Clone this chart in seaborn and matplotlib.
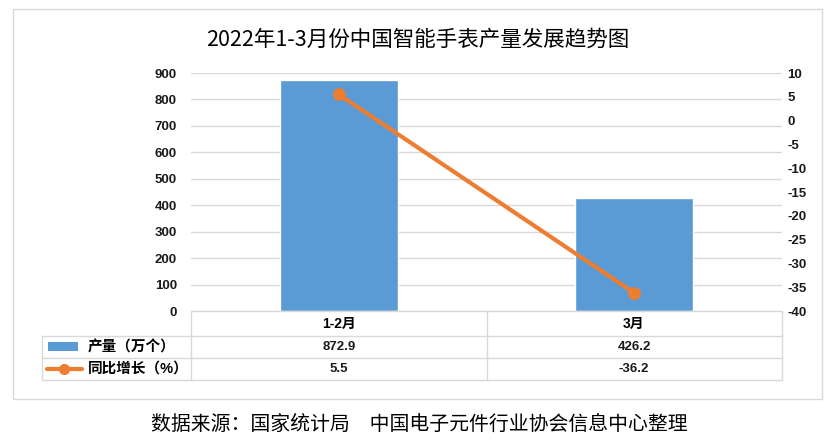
import matplotlib
matplotlib.use('Agg')
import matplotlib.pyplot as plt
from matplotlib.lines import Line2D
from matplotlib.patches import Rectangle
import seaborn as sns
import pandas as pd

categories = ['1-2月', '3月']
output = [872.9, 426.2]
yoy = [5.5, -36.2]
series_names = ['产量（万个）', '同比增长（%）']
left_ticks = list(range(0, 901, 100))
right_ticks = list(range(-40, 11, 5))
title = '2022年1-3月份中国智能手表产量发展趋势图'
source = '数据来源：国家统计局　中国电子元件行业协会信息中心整理'

W, H = 837, 444
BLUE = '#5B9BD5'
ORANGE = '#ED7D31'
GRID = '#D9D9D9'
TXT = '#1a1a1a'
NUM = ['Liberation Sans']

sns.set_theme(style='white')
plt.rcParams['font.family'] = ['Liberation Sans', 'Noto Sans CJK SC', 'DejaVu Sans']
plt.rcParams['axes.unicode_minus'] = False

df = pd.DataFrame({'cat': categories, 'output': output, 'yoy': yoy})

fig = plt.figure(figsize=(W / 100, H / 100), dpi=100)


def fx(x):
    return x / W


def fy(y):
    return 1 - y / H


def hline(x0, x1, y, c=GRID, lw=1):
    fig.add_artist(Line2D([fx(x0), fx(x1)], [fy(y), fy(y)], color=c, lw=lw))


def vline(x, y0, y1, c=GRID, lw=1):
    fig.add_artist(Line2D([fx(x), fx(x)], [fy(y0), fy(y1)], color=c, lw=lw))


# outer border
fig.add_artist(Rectangle((fx(13), fy(399)), fx(822) - fx(13), fy(9) - fy(399),
                         fill=False, edgecolor=GRID, lw=1))

px0, px1, py0, py1 = 191, 782, 73, 311
ax = fig.add_axes([fx(px0), fy(py1), fx(px1) - fx(px0), fy(py0) - fy(py1)])
sns.barplot(data=df, x='cat', y='output', color=BLUE, width=0.4, saturation=1, ax=ax)
ax.set_ylim(0, 900)
ax.set_yticks(left_ticks, [str(v) for v in left_ticks], fontweight='bold',
              fontsize=9.5, color=TXT, family=NUM)
ax.grid(axis='y', color=GRID, lw=1)
ax.set_axisbelow(True)
ax.set_xlim(-0.5, 1.5)
ax.set_xticks([])
ax.set_xlabel('')
ax.set_ylabel('')
for s in ax.spines.values():
    s.set_visible(False)
ax.tick_params(axis='y', length=0, pad=10)

ax2 = ax.twinx()
sns.pointplot(data=df, x='cat', y='yoy', color=ORANGE, markers='o', linestyles='-',
              linewidth=3, markersize=7, ax=ax2)
ax2.set_xlim(-0.5, 1.5)
ax2.set_ylim(-40, 10)
ax2.set_yticks(right_ticks, [str(v) for v in right_ticks], fontweight='bold',
               fontsize=9.5, color=TXT, family=NUM)
ax2.set_xlabel('')
ax2.set_ylabel('')
ax2.grid(False)
for s in ax2.spines.values():
    s.set_visible(False)
ax2.tick_params(axis='y', length=0, pad=4)

# data table
rows = [311, 336, 358, 380]
hline(px0, px1, rows[0])
for y in rows[1:]:
    hline(42, px1, y)
for x in [px0, 487, px1]:
    vline(x, rows[0], rows[3])
vline(42, rows[1], rows[3])

centers = [339, 634]
for cx, cat, v1, v2 in zip(centers, categories, output, yoy):
    fig.text(fx(cx), fy(324), cat, ha='center', va='center', fontsize=10,
             fontweight='bold', color='black')
    fig.text(fx(cx), fy(347), f'{v1:.1f}', ha='center', va='center', fontsize=9.5,
             fontweight='bold', color=TXT, family=NUM)
    fig.text(fx(cx), fy(369), f'{v2:.1f}', ha='center', va='center', fontsize=9.5,
             fontweight='bold', color=TXT, family=NUM)

# legend keys inside table
fig.add_artist(Rectangle((fx(48), fy(351)), fx(78) - fx(48), fy(342) - fy(351),
                         facecolor=BLUE, edgecolor='none'))
fig.add_artist(Line2D([fx(47), fx(82)], [fy(369), fy(369)], color=ORANGE, lw=3))
fig.add_artist(Line2D([fx(64)], [fy(369)], color=ORANGE, marker='o', markersize=7))
fig.text(fx(88), fy(347), series_names[0], ha='left', va='center', fontsize=10.5,
         fontweight='bold', color='black')
fig.text(fx(88), fy(369), series_names[1], ha='left', va='center', fontsize=10.5,
         fontweight='bold', color='black')

fig.text(fx(418), fy(40), title, ha='center', va='center', fontsize=15.5,
         color='black', family=['Noto Sans CJK SC'], fontweight='medium')
fig.text(fx(419), fy(424), source, ha='center', va='center', fontsize=14.3,
         color='black', family=['Noto Sans CJK SC'], fontweight='light')

fig.savefig('out.png', dpi=100)
